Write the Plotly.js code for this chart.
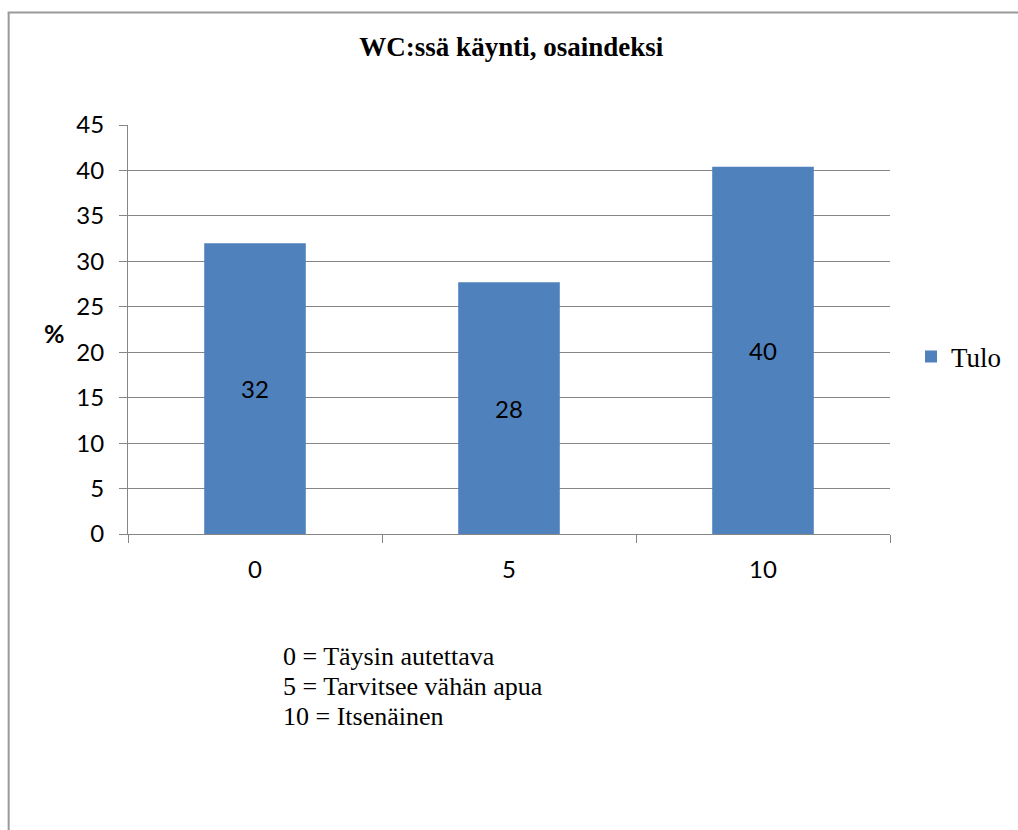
<!DOCTYPE html>
<html>
<head>
<meta charset="utf-8">
<script src="https://cdn.plot.ly/plotly-3.0.1.min.js"></script>
<style>
  html, body { margin: 0; padding: 0; background: #ffffff; }
  #chart { width: 1018px; height: 830px; }
</style>
</head>
<body>
<div id="chart"></div>
<script>
// Toilet use sub-index: share of respondents (%) at each score, arrival ("Tulo")
const categories = ['0', '5', '10'];
const tuloValues = [32.0, 27.7, 40.4];
const seriesName = 'Tulo';
const yTicks = [0, 5, 10, 15, 20, 25, 30, 35, 40, 45];
const legendNotes = [
  '0 = Täysin autettava',
  '5 = Tarvitsee vähän apua',
  '10 = Itsenäinen'
];

const W = 1018, H = 830;
const M = { l: 128, r: 127, t: 125, b: 296 };
const plotW = W - M.l - M.r;
const plotH = H - M.t - M.b;
// pixel -> paper helpers for the frame and free text
const px = x => (x - M.l) / plotW;
const py = y => (H - M.b - y) / plotH;

const gridColor = '#868686';
const sansFont = 'Lato, "Open Sans", sans-serif';
const serifFont = '"Liberation Serif", "Times New Roman", serif';
const tickSize = 24;

const trace = {
  type: 'bar',
  name: seriesName,
  x: categories,
  y: tuloValues,
  marker: { color: '#4F81BD' },
  text: tuloValues,
  texttemplate: '%{y:.0f}',
  textposition: 'inside',
  insidetextanchor: 'middle',
  textangle: 0,
  insidetextfont: { family: sansFont, size: tickSize, color: '#000000' },
  hoverinfo: 'x+y',
  showlegend: true
};

const annotations = [
  {
    xref: 'paper', yref: 'paper', x: px(54), y: py(333),
    xanchor: 'center', yanchor: 'middle', showarrow: false,
    text: '<b>%</b>', font: { family: sansFont, size: 25, color: '#000000' }
  }
];
const noteY = [656, 686, 716];
legendNotes.forEach((t, i) => {
  annotations.push({
    xref: 'paper', yref: 'paper', x: px(281), y: py(noteY[i]),
    xanchor: 'left', yanchor: 'middle', showarrow: false, align: 'left',
    text: t, font: { family: serifFont, size: 26, color: '#000000' }
  });
});

const frameColor = '#9a9a9a';
const shapes = [
  { type: 'line', xref: 'paper', yref: 'paper',
    x0: px(8.5), x1: px(8.5), y0: py(12.5), y1: py(H + 2),
    line: { color: frameColor, width: 2 } },
  { type: 'line', xref: 'paper', yref: 'paper',
    x0: px(7.5), x1: px(W + 2), y0: py(12.5), y1: py(12.5),
    line: { color: frameColor, width: 2 } }
];

const layout = {
  width: W, height: H,
  margin: M,
  paper_bgcolor: '#ffffff',
  plot_bgcolor: '#ffffff',
  title: {
    text: '<b>WC:ssä käynti, osaindeksi</b>',
    font: { family: serifFont, size: 27, color: '#000000' },
    x: 0.503, xref: 'paper', xanchor: 'center',
    y: 1 - 47 / H, yref: 'container', yanchor: 'middle'
  },
  bargap: 0.6,
  xaxis: {
    type: 'category',
    showline: true, linecolor: gridColor, linewidth: 1,
    showgrid: false,
    ticks: 'outside', tickson: 'boundaries', ticklen: 8,
    tickcolor: gridColor, tickwidth: 1,
    tickfont: { family: sansFont, size: tickSize, color: '#000000' },
    ticklabelstandoff: 14,
    fixedrange: true
  },
  yaxis: {
    range: [0, 45],
    tickvals: yTicks,
    showline: true, linecolor: gridColor, linewidth: 1,
    showgrid: true, gridcolor: gridColor, gridwidth: 1,
    zeroline: false,
    ticks: 'outside', ticklen: 8, tickcolor: gridColor, tickwidth: 1,
    tickfont: { family: sansFont, size: tickSize, color: '#000000' },
    ticklabelstandoff: 10,
    fixedrange: true
  },
  legend: {
    x: px(911), y: py(357), xanchor: 'left', yanchor: 'middle',
    xref: 'paper', yref: 'paper',
    font: { family: serifFont, size: 27, color: '#000000' },
    bgcolor: 'rgba(0,0,0,0)', borderwidth: 0
  },
  annotations: annotations,
  shapes: shapes
};

Plotly.newPlot('chart', [trace], layout, { displayModeBar: false, staticPlot: true });
</script>
</body>
</html>
